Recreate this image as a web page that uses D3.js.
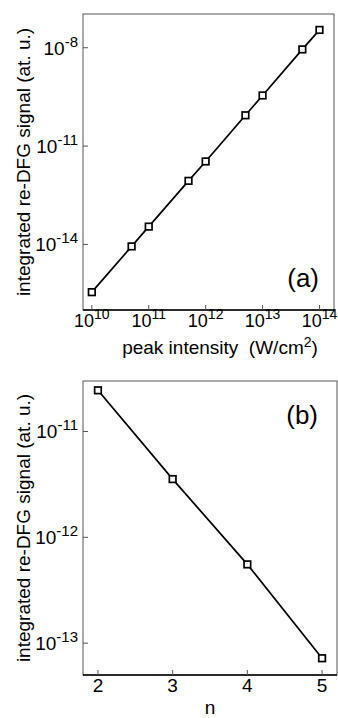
<!DOCTYPE html>
<html>
<head>
<meta charset="utf-8">
<script src="https://cdn.jsdelivr.net/npm/d3@7"></script>
<style>
  body { margin: 0; background: #fff; }
  svg { display: block; font-family: "Liberation Sans", Arial, Helvetica, sans-serif; }
</style>
</head>
<body>
<svg id="chart" width="338" height="718"></svg>
<script>
// panel (a): signal vs peak intensity
const intensity = [1e10, 5e10, 1e11, 5e11, 1e12, 5e12, 1e13, 5e13, 1e14];
const signalA = [3.5e-16, 8.7e-15, 3.5e-14, 8.7e-13, 3.4e-12, 8.7e-11, 3.5e-10, 8.9e-9, 3.5e-8];
const xTicksA = [10, 11, 12, 13, 14];
const yTicksA = [-8, -11, -14];

// panel (b): signal vs n
const nValues = [2, 3, 4, 5];
const signalB = [2.45e-11, 3.55e-12, 5.55e-13, 7.2e-14];
const xTicksB = [2, 3, 4, 5];
const yTicksB = [-11, -12, -13];

const yTitle = "integrated re-DFG signal (at. u.)";

const svg = d3.select("svg#chart");
const frameColor = "#555";

const drawPanel = (opts) => {
  const { left, right, top, bottom, x, y, xs, ys, xTicks, yTicks, xLabel, yLabel, tag, expX } = opts;
  const g = svg.append("g");

  // frame
  g.append("rect")
    .attr("x", left).attr("y", top)
    .attr("width", right - left).attr("height", bottom - top)
    .style("fill", "none").style("stroke", frameColor).style("stroke-width", 1);

  // bottom axis line
  g.append("line")
    .attr("x1", left).attr("x2", right)
    .attr("y1", bottom).attr("y2", bottom)
    .style("stroke", "#000").style("stroke-width", 1.3);

  // x ticks (inside)
  const xt = xTicks.map((t) => (expX ? Math.pow(10, t) : t));
  g.selectAll("line.xtick")
    .data(xt)
    .join("line")
    .attr("class", "xtick")
    .attr("x1", (d) => x(d)).attr("x2", (d) => x(d))
    .attr("y1", bottom).attr("y2", bottom - 5)
    .style("stroke", frameColor);

  // y ticks (inside)
  g.selectAll("line.ytick")
    .data(yTicks)
    .join("line")
    .attr("class", "ytick")
    .attr("x1", left).attr("x2", left + 5)
    .attr("y1", (d) => y(Math.pow(10, d))).attr("y2", (d) => y(Math.pow(10, d)))
    .style("stroke", frameColor);

  // x tick labels
  const xl = g.selectAll("text.xlabel")
    .data(xTicks)
    .join("text")
    .attr("class", "xlabel")
    .attr("x", (d) => x(expX ? Math.pow(10, d) : d))
    .attr("y", bottom + 17)
    .attr("text-anchor", "middle")
    .style("font-size", expX ? "18px" : "19px");
  if (expX) {
    xl.text("10");
    xl.append("tspan").attr("dy", -8).style("font-size", "14px").text((d) => d);
  } else {
    xl.text((d) => d);
  }

  // y tick labels
  const yl = g.selectAll("text.ylabel")
    .data(yTicks)
    .join("text")
    .attr("class", "ylabel")
    .attr("x", left - 5)
    .attr("y", (d) => y(Math.pow(10, d)) + 7)
    .attr("text-anchor", "end")
    .style("font-size", "19px")
    .text("10");
  yl.append("tspan").attr("dy", -8).style("font-size", "15px").text((d) => "-" + Math.abs(d));

  // axis titles
  g.append("text")
    .attr("transform", `translate(30, ${(top + bottom) / 2}) rotate(-90)`)
    .attr("text-anchor", "middle")
    .style("font-size", "19px")
    .text(yLabel);

  const xt2 = g.append("text")
    .attr("x", xLabel.x)
    .attr("y", xLabel.y)
    .attr("text-anchor", "middle")
    .style("font-size", "19px")
    .style("white-space", "pre")
    .text(xLabel.text);
  if (xLabel.sup) {
    xt2.append("tspan").attr("dy", -7).style("font-size", "14px").text(xLabel.sup);
    xt2.append("tspan").attr("dy", 7).text(xLabel.after);
  }

  // panel tag
  g.append("text")
    .attr("x", tag.x).attr("y", tag.y)
    .attr("text-anchor", "end")
    .style("font-size", "26px")
    .text(tag.text);

  // line + markers
  const pts = xs.map((d, i) => [x(d), y(ys[i])]);
  g.append("path")
    .attr("d", d3.line()(pts))
    .style("fill", "none").style("stroke", "#000").style("stroke-width", 1.7);

  g.selectAll("rect.marker")
    .data(pts)
    .join("rect")
    .attr("class", "marker")
    .attr("x", (d) => d[0] - 3.3).attr("y", (d) => d[1] - 3.3)
    .attr("width", 6.6).attr("height", 6.6)
    .style("fill", "#fff").style("stroke", "#000").style("stroke-width", 1.7);
};

// panel (a)
const xA = d3.scaleLog().domain([7e9, 1.8e14]).range([83, 334]);
const yA = d3.scaleLog().domain([1e-16, 1.07e-7]).range([310, 14]);
drawPanel({
  left: 83, right: 334, top: 14, bottom: 310,
  x: xA, y: yA, xs: intensity, ys: signalA,
  xTicks: xTicksA, yTicks: yTicksA, expX: true,
  yLabel: yTitle,
  xLabel: { x: 220, y: 354, text: "peak intensity  (W/cm", sup: "2", after: ")" },
  tag: { text: "(a)", x: 319, y: 287 },
});

// panel (b)
const xB = d3.scaleLinear().domain([1.8, 5.2]).range([83, 337]);
const yB = d3.scaleLog().domain([5e-14, 3e-11]).range([675, 381]);
drawPanel({
  left: 83, right: 337, top: 381, bottom: 675,
  x: xB, y: yB, xs: nValues, ys: signalB,
  xTicks: xTicksB, yTicks: yTicksB, expX: false,
  yLabel: yTitle,
  xLabel: { x: 210, y: 714, text: "n" },
  tag: { text: "(b)", x: 318, y: 424 },
});
</script>
</body>
</html>
